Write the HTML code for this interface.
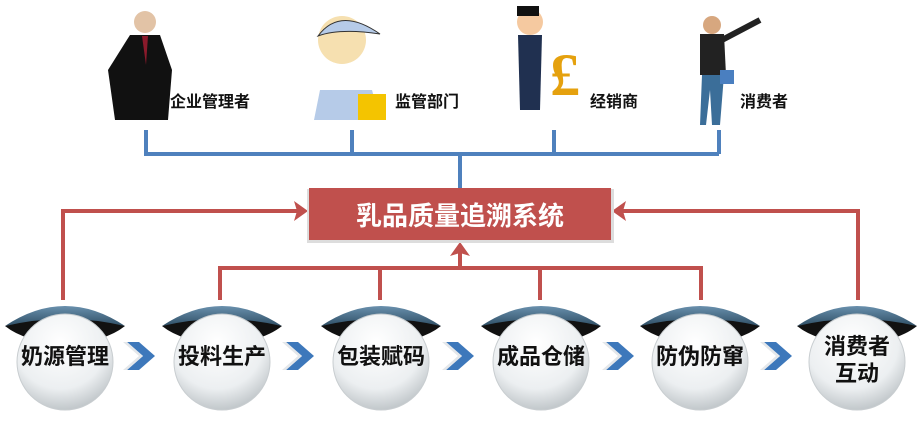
<!DOCTYPE html>
<html><head><meta charset="utf-8"><style>
body{margin:0;background:#fff;width:921px;height:419px;overflow:hidden;font-family:"Liberation Sans","Noto Sans CJK SC",sans-serif}
</style></head><body>
<svg width="921" height="419" viewBox="0 0 921 419" xmlns="http://www.w3.org/2000/svg">
<defs>
<radialGradient id="ball" cx="0.45" cy="0.3" r="0.8">
<stop offset="0" stop-color="#ffffff"/><stop offset="0.6" stop-color="#eceff1"/><stop offset="1" stop-color="#aeb5b9"/>
</radialGradient>
<linearGradient id="cap" x1="0" y1="0" x2="0" y2="1"><stop offset="0" stop-color="#6990ad"/><stop offset="1" stop-color="#2f4f66"/></linearGradient>
<g id="node">
<path d="M-60,-36 Q0,-76 60,-36 Q0,-46 -60,-36Z" fill="url(#cap)"/>
<path d="M-60,-36 Q0,-50 60,-36 Q40,-20 0,-18 Q-40,-20 -60,-36Z" fill="#111"/>
<circle cx="0" cy="0" r="48" fill="url(#ball)" stroke="#c8cdd0" stroke-width="1"/>
</g>
<g id="chev"><path d="M-16,-14 L-4,-14 L12,0 L-4,14 L-16,14 L0,0Z" fill="#3d78bb"/><path d="M-20,-14 L-16,-14 L0,0 L-16,14 L-20,14 L-4,0Z" fill="#e4e7ea"/></g>
</defs>
<g stroke="#4f81bd" stroke-width="4" fill="none">
<path d="M146,130 V154 H719 M352,130 V154 M554,130 V154 M719,130 V154 M460,154 V188"/>
</g>
<g stroke="#c0504d" stroke-width="4" fill="none">
<path d="M63,300 V211 H298"/>
<path d="M858,300 V211 H622"/>
<path d="M220,300 V268 H701 V300 M380,268 V300 M540,268 V300 M460,268 V250"/>
</g>
<g fill="#c0504d">
<path d="M308,211 L294,201 L297,211 L294,221Z"/>
<path d="M612,211 L626,201 L623,211 L626,221Z"/>
<path d="M460,242 L450,256 L460,253 L470,256Z"/>
</g>
<rect x="307" y="189" width="307" height="54" fill="#ddd"/>
<rect x="309" y="188" width="302" height="52" fill="#c0504d"/>
<text x="460" y="225" text-anchor="middle" font-size="26" font-weight="bold" fill="#fff" font-family="Liberation Sans,Noto Sans CJK SC,sans-serif">乳品质量追溯系统</text>
<use href="#node" x="65" y="362"/><use href="#node" x="222" y="362"/><use href="#node" x="381" y="362"/>
<use href="#node" x="541" y="362"/><use href="#node" x="700" y="362"/><use href="#node" x="857" y="362"/>
<use href="#chev" x="143" y="356"/><use href="#chev" x="302" y="356"/><use href="#chev" x="462" y="356"/>
<use href="#chev" x="622" y="356"/><use href="#chev" x="780" y="356"/>
<g font-size="22" font-weight="bold" fill="#111" text-anchor="middle" font-family="Liberation Sans,Noto Sans CJK SC,sans-serif">
<text x="65" y="364">奶源管理</text><text x="222" y="364">投料生产</text><text x="381" y="364">包装赋码</text>
<text x="541" y="364">成品仓储</text><text x="700" y="364">防伪防窜</text>
<text x="857" y="354">消费者</text><text x="857" y="381">互动</text>
</g>
<g>
<circle cx="145" cy="22" r="11" fill="#e2c3a6"/><path d="M130,35 L160,35 L172,70 L168,120 L115,120 L108,70Z" fill="#111"/><path d="M142,36 L148,36 L146,65Z" fill="#8b1a2b"/>
<circle cx="342" cy="40" r="24" fill="#f6e0b0"/><path d="M318,36 Q340,6 380,34 Q340,28 318,36Z" fill="#b6cbe8" stroke="#333"/><path d="M320,90 L372,90 L380,120 L314,120Z" fill="#b6cbe8"/><rect x="358" y="94" width="28" height="26" fill="#f4c400"/>
<circle cx="530" cy="22" r="13" fill="#f5c9a0"/><rect x="517" y="6" width="22" height="10" fill="#111"/><path d="M518,35 L542,35 L540,110 L520,110Z" fill="#203050"/><text x="565" y="95" font-size="60" font-weight="bold" fill="#e5a10e" text-anchor="middle" font-family="Liberation Serif,serif">£</text>
<circle cx="712" cy="25" r="9" fill="#d7a77f"/><path d="M700,34 L724,34 L726,75 L700,75Z" fill="#222"/><path d="M702,75 L724,75 L720,125 L712,125 L710,90 L706,125 L700,125Z" fill="#3b6e99"/><path d="M722,40 L760,20" stroke="#222" stroke-width="6"/><rect x="720" y="70" width="14" height="14" fill="#4a7fc0"/>
</g>
<g font-size="16" font-weight="bold" fill="#111" font-family="Liberation Sans,Noto Sans CJK SC,sans-serif">
<text x="170" y="107">企业管理者</text><text x="395" y="107">监管部门</text><text x="590" y="107">经销商</text><text x="740" y="107">消费者</text>
</g>
</svg>
</body></html>
